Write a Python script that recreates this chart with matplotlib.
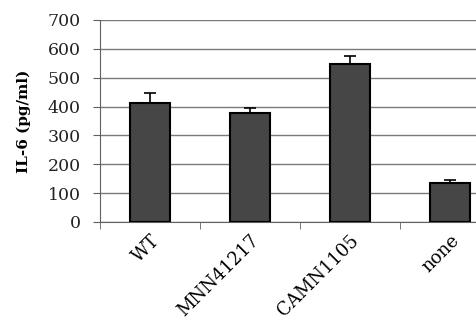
import matplotlib.pyplot as plt
import numpy as np

# donnees
souches = ["WT", "MNN41217", "CAMN1105", "none"]
il6 = [412, 378, 547, 135]
erreur = [35, 17, 28, 11]
yticks = [0, 100, 200, 300, 400, 500, 600, 700]

plt.rcParams['font.family'] = ['DejaVu Serif']

fig = plt.figure(figsize=(4.76, 3.21), dpi=100)
# l'axe depasse a droite : la figure d'origine est rognee
ax = fig.add_axes([100/476, 1 - 222/321, 400/476, 202/321])

x = np.arange(len(souches))
ax.bar(x, il6, width=0.4, color='#464646', edgecolor='black', linewidth=1.5, zorder=3)
ax.errorbar(x, il6, yerr=[np.zeros(len(erreur)), erreur], fmt='none',
            ecolor='black', elinewidth=1.2, capsize=4, capthick=1.2, zorder=4)

ax.set_xlim(-0.5, 3.5)
ax.set_ylim(0, 700)
ax.set_yticks(yticks)
ax.yaxis.grid(True, color='#7a7a7a', linewidth=1)
ax.set_axisbelow(True)

ax.set_xticks(x)
ax.set_xticklabels(souches, rotation=45, ha='right', rotation_mode='anchor', fontsize=13)
ax.tick_params(axis='x', which='major', length=0, pad=7)
ax.set_xticks(np.arange(len(souches) + 1) - 0.5, minor=True)
ax.tick_params(axis='x', which='minor', length=5, color='#606060')
ax.tick_params(axis='y', length=5, pad=9, color='#606060', labelsize=12.5, labelcolor='#222222')

ax.spines[['top', 'right']].set_visible(False)
ax.spines['left'].set_color('#606060')
ax.spines['bottom'].set_color('#606060')

ax.set_ylabel("IL-6 (pg/ml)", fontweight='bold', fontsize=11, labelpad=12)

fig.savefig('out.png', dpi=100)
